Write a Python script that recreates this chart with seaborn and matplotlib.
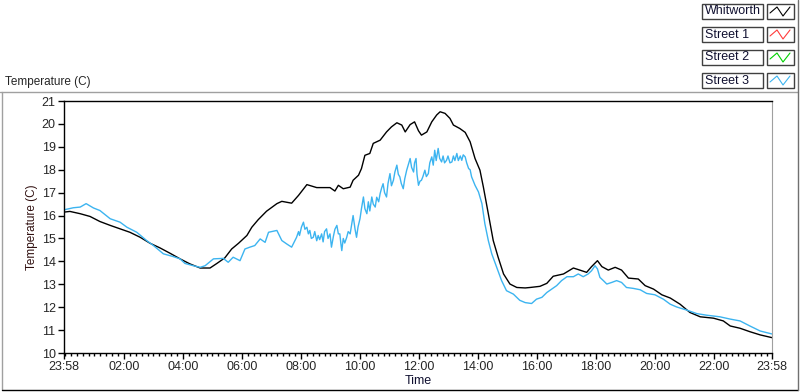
import matplotlib
matplotlib.use("Agg")
import matplotlib.pyplot as plt
import seaborn as sns
import pandas as pd
from matplotlib.lines import Line2D
from matplotlib.patches import Rectangle

# minutes after the 23:58 start, and temperature (C)
whit_min = [0, 12, 33, 53, 73, 94, 114, 134, 155, 175, 195, 216, 236, 256, 277, 297, 311, 327,
            341, 355, 372, 382, 395, 412, 433, 443, 463, 477, 494, 514, 527, 541, 551, 558, 568,
            582, 588, 599, 605, 612, 622, 629, 643, 656, 666, 677, 687, 694, 704, 713, 721, 727,
            738, 748, 758, 765, 775, 785, 792, 805, 816, 826, 836, 846, 853, 863, 873, 883, 894,
            907, 921, 938, 948, 968, 982, 995, 1016, 1036, 1049, 1063, 1073, 1085, 1094, 1107,
            1121, 1134, 1148, 1168, 1182, 1199, 1216, 1233, 1253, 1273, 1294, 1321, 1341, 1355,
            1375, 1395, 1416, 1440]
whit_temp = [16.15, 16.18, 16.08, 15.96, 15.74, 15.57, 15.42, 15.27, 15.05, 14.79, 14.59, 14.35,
             14.11, 13.89, 13.71, 13.71, 13.91, 14.15, 14.54, 14.79, 15.13, 15.49, 15.82, 16.19,
             16.52, 16.62, 16.54, 16.88, 17.35, 17.22, 17.22, 17.22, 17.07, 17.32, 17.17, 17.24,
             17.54, 17.76, 18.05, 18.63, 18.71, 19.15, 19.29, 19.65, 19.87, 20.05, 19.95, 19.65,
             19.97, 20.09, 19.7, 19.51, 19.65, 20.09, 20.39, 20.53, 20.46, 20.24, 19.95, 19.8,
             19.63, 19.22, 18.49, 17.98, 17.24, 16.08, 14.91, 14.18, 13.45, 13.01, 12.86, 12.84,
             12.86, 12.91, 13.04, 13.35, 13.45, 13.71, 13.62, 13.52, 13.77, 14.03, 13.77, 13.62,
             13.74, 13.62, 13.27, 13.23, 12.94, 12.79, 12.54, 12.4, 12.13, 11.77, 11.58, 11.52,
             11.4, 11.18, 11.08, 10.93, 10.79, 10.67]

st3_min = [0, 19, 33, 45, 60, 73, 94, 114, 128, 148, 168, 182, 202, 222, 236, 246, 263, 277, 287,
           304, 324, 334, 344, 358, 368, 378, 388, 399, 409, 416, 433, 443, 453, 463,
           473, 477, 479, 483, 487, 490, 494, 497, 500, 503, 507, 510, 514, 517, 520, 524, 527,
           530, 534, 537, 541, 544, 548, 551, 555, 558, 561, 563, 565, 568, 571, 575, 578, 582,
           585, 588, 592, 595, 598, 602, 605, 609, 612, 616, 619, 622, 626, 629, 633, 636, 640,
           643, 646, 649, 652, 656, 659, 663, 666, 670, 673, 677, 680, 683, 686, 690, 693, 697,
           700, 704, 707, 711, 713, 716, 718, 721, 724, 727, 730, 734, 737, 741, 744, 748, 751,
           754, 757, 761, 764, 768, 771, 774, 778, 781, 785, 789, 792, 795, 799, 802, 806, 809,
           812, 816, 819, 823, 826, 829,
           836, 843, 850, 856, 863, 870, 880, 890, 900, 914, 927, 938, 951, 961, 972, 982, 992,
           1002, 1012, 1023, 1036, 1046, 1056, 1066, 1073, 1080, 1085, 1090, 1097, 1104, 1114,
           1124, 1134, 1144, 1158, 1172, 1185, 1202, 1219, 1233, 1246, 1267, 1287, 1307, 1334,
           1355, 1375, 1395, 1416, 1440]
st3_temp = [16.25, 16.34, 16.37, 16.52, 16.33, 16.22, 15.86, 15.71, 15.49, 15.27, 14.91, 14.69,
            14.33, 14.21, 14.11, 13.91, 13.81, 13.74, 13.81, 14.11, 14.13, 13.96, 14.18, 14.03,
            14.54, 14.62, 14.69, 14.98, 14.83, 15.27, 15.35, 14.91, 14.76, 14.62,
            15.05, 15.3, 15.13, 15.5, 15.71, 15.4, 15.49, 15.2, 15.35, 15.0, 15.05, 15.3, 14.9,
            15.13, 14.95, 15.2, 14.85, 15.3, 15.42, 15.0, 15.2, 14.62, 15.1, 15.4, 15.57, 15.2,
            15.2, 14.8, 14.47, 15.0, 14.8, 15.05, 15.3, 15.2, 15.6, 16.0, 15.4, 15.05, 15.5,
            15.86, 16.3, 16.81, 16.3, 16.08, 16.6, 16.2, 16.81, 16.5, 16.37, 16.8, 16.6, 16.96,
            17.2, 17.39, 17.0, 16.81, 17.4, 17.83, 17.3, 17.54, 17.9, 18.2, 17.8, 17.69, 17.4,
            17.17, 17.6, 17.98, 18.2, 18.49, 18.1, 17.9, 18.3, 18.49, 17.8, 17.32, 17.5, 17.54,
            17.7, 17.98, 17.7, 17.83, 18.3, 18.56, 18.2, 18.85, 18.4, 18.93, 18.5, 18.34, 18.6,
            18.3, 18.41, 18.6, 18.3, 18.34, 18.6, 18.4, 18.71, 18.4, 18.6, 18.41, 18.65, 18.56,
            18.3, 18.05, 18.0, 17.69,
            17.32, 17.03, 16.52, 15.64, 14.91, 14.33, 13.74, 13.16, 12.72, 12.57, 12.3, 12.2,
            12.16, 12.35, 12.43, 12.64, 12.79, 12.94, 13.16, 13.33, 13.33, 13.45, 13.33, 13.45,
            13.59, 13.81, 13.67, 13.3, 13.16, 13.01, 13.08, 13.16, 13.08, 12.86, 12.82, 12.76,
            12.6, 12.54, 12.35, 12.13, 12.01, 11.87, 11.72, 11.65, 11.58, 11.48, 11.4, 11.18,
            10.96, 10.83]

tick_min = [0, 122, 242, 362, 482, 602, 722, 842, 962, 1082, 1202, 1322, 1440]
tick_lab = ["23:58", "02:00", "04:00", "06:00", "08:00", "10:00", "12:00", "14:00",
            "16:00", "18:00", "20:00", "22:00", "23:58"]
series_names = ["Whitworth", "Street 1", "Street 2", "Street 3"]
series_colors = ["#000000", "#ff3c3c", "#00d000", "#3cb4f0"]

whit = pd.DataFrame({"t": whit_min, "temp": whit_temp})
st3 = pd.DataFrame({"t": st3_min, "temp": st3_temp})

sns.set_style("white")
plt.rcParams["font.family"] = ["Liberation Sans", "DejaVu Sans"]
plt.rcParams["font.size"] = 8.5

W, H = 800, 392
fig = plt.figure(figsize=(8, 3.92), dpi=100)
fig.patch.set_facecolor("white")


def fx(px):
    return px / W


def fy(py):
    return 1 - py / H


ax = fig.add_axes([fx(64), fy(353), fx(772) - fx(64), fy(101) - fy(353)])
sns.lineplot(data=whit, x="t", y="temp", ax=ax, color=series_colors[0], lw=1.0, estimator=None)
sns.lineplot(data=st3, x="t", y="temp", ax=ax, color=series_colors[3], lw=1.0, estimator=None)

ax.set_xlim(0, 1440)
ax.set_ylim(10, 21)
ax.set_yticks(range(10, 22))
ax.set_xticks(tick_min)
ax.set_xticklabels(tick_lab)
ax.set_xticks([122 + 12 * k for k in range(-10, 111) if 0 < 122 + 12 * k < 1440], minor=True)
ax.tick_params(axis="both", which="major", direction="out", length=4, width=1, color="black",
               labelsize=9, pad=2, left=True, bottom=True)
ax.tick_params(axis="x", which="minor", direction="out", length=2.5, width=1, color="black",
               bottom=True)
for s in ["left", "top", "bottom"]:
    ax.spines[s].set_color("black")
    ax.spines[s].set_linewidth(1)
ax.spines["right"].set_color("#a0a0a0")
ax.set_xlabel("Time", fontsize=9, labelpad=1, color="#101030")
ax.set_ylabel("Temperature (C)", fontsize=8.5, labelpad=3, color="#301010")
ax.grid(False)

# outer frame
fig.add_artist(Line2D([fx(0), fx(798)], [fy(92), fy(92)], color="#a0a0a0", lw=1))
fig.add_artist(Line2D([fx(2), fx(2)], [fy(92), fy(390)], color="#a0a0a0", lw=1))
fig.add_artist(Line2D([fx(2), fx(798)], [fy(390), fy(390)], color="black", lw=1))
fig.add_artist(Line2D([fx(798), fx(798)], [fy(0), fy(390)], color="#707070", lw=1))
fig.text(fx(5), fy(82), "Temperature (C)", ha="left", va="center", fontsize=8.5)

# plot legend
for i, (name, col) in enumerate(zip(series_names, series_colors)):
    y0 = 4 + 23 * i
    fig.add_artist(Rectangle((fx(702), fy(y0 + 15)), fx(763) - fx(702), fy(y0) - fy(y0 + 15),
                             transform=fig.transFigure, facecolor="white", edgecolor="#404040", lw=1))
    fig.text(fx(705), fy(y0 + 7.5), name, ha="left", va="center", fontsize=9, color="#101030")
    fig.add_artist(Rectangle((fx(767), fy(y0 + 15)), fx(794) - fx(767), fy(y0) - fy(y0 + 15),
                             transform=fig.transFigure, facecolor="white", edgecolor="#404040", lw=1))
    zx = [770, 777, 783, 790]
    zy = [y0 + 9, y0 + 3, y0 + 12, y0 + 3]
    fig.add_artist(Line2D([fx(v) for v in zx], [fy(v) for v in zy], color=col, lw=0.8))

fig.savefig("out.png", dpi=100)
